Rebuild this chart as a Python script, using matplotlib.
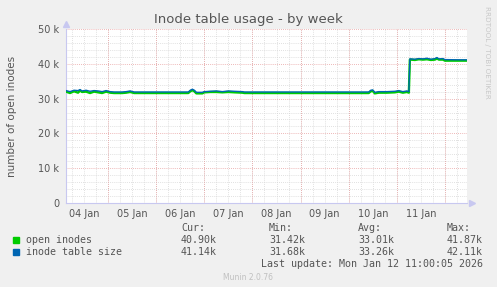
import datetime as dt
import matplotlib
matplotlib.use('Agg')
import matplotlib.pyplot as plt
import matplotlib.dates as mdates
from matplotlib.ticker import MultipleLocator, FuncFormatter

# time axis: hours after 04 Jan 03:00
inicio = dt.datetime(2026, 1, 4, 3, 0)
horas = [0, 2, 4, 6, 7, 8, 10, 12, 14, 16, 18, 20, 22, 24, 26, 28, 30, 32, 34,
         40, 50, 60, 61, 62, 63, 64, 65, 68, 69, 72, 75, 78, 81, 84, 88, 89,
         100, 120, 140, 150, 151, 152, 153, 154, 156, 160, 164, 166, 168, 170,
         171, 171.5, 172, 174, 176, 178, 180, 182, 184, 185, 186, 188, 189,
         190, 195, 200]

tabla_inodos = [32.3, 32.0, 32.4, 32.3, 32.6, 32.2, 32.4, 32.1, 32.3, 32.2, 32.0,
                32.3, 32.0, 31.9, 31.9, 31.9, 32.0, 32.2, 31.9,
                31.9, 31.9, 31.9, 31.9, 32.4, 32.7, 32.4, 31.8, 31.8, 32.0, 32.1,
                32.2, 32.0, 32.2, 32.1, 32.0, 31.9,
                31.9, 31.9, 31.9, 31.9, 31.9, 32.4, 32.5, 31.8, 32.0, 32.0, 32.1,
                32.3, 32.0, 32.2,
                32.0, 41.4, 41.4, 41.3, 41.5, 41.4, 41.6, 41.3, 41.5, 41.8, 41.4,
                41.5, 41.2, 41.2, 41.15, 41.14]

inodos_abiertos = [32.0, 31.6, 32.1, 31.7, 32.3, 31.9, 32.0, 31.6, 32.0, 31.8, 31.6,
                   32.0, 31.7, 31.6, 31.6, 31.6, 31.7, 31.9, 31.6,
                   31.6, 31.6, 31.6, 31.6, 32.1, 32.4, 32.1, 31.5, 31.5, 31.8, 31.9,
                   31.9, 31.8, 31.9, 31.8, 31.7, 31.6,
                   31.6, 31.6, 31.6, 31.6, 31.6, 32.1, 32.2, 31.5, 31.7, 31.7, 31.8,
                   32.0, 31.7, 31.9,
                   31.7, 41.2, 41.2, 41.1, 41.3, 41.2, 41.3, 41.1, 41.2, 41.5, 41.2,
                   41.2, 40.9, 40.9, 40.9, 40.9]

series = ['open inodes', 'inode table size']
colores = ['#00CC00', '#0066B3']
cur = ['40.90k', '41.14k']
minimo = ['31.42k', '31.68k']
avg = ['33.01k', '33.26k']
maximo = ['41.87k', '42.11k']

tiempos = [inicio + dt.timedelta(hours=h) for h in horas]
fin = inicio + dt.timedelta(hours=200)

W, H = 497, 287
fondo = '#F0F0F0'
gris_txt = '#555555'

fig = plt.figure(figsize=(W / 100, H / 100), dpi=100, facecolor=fondo)
ax = fig.add_axes([66 / W, 1 - 203 / H, 401 / W, 174 / H])
ax.set_facecolor('white')

ax.plot(tiempos, [v * 1000 for v in inodos_abiertos], color=colores[0], lw=1.7, zorder=3)
ax.plot(tiempos, [v * 1000 for v in tabla_inodos], color=colores[1], lw=1.0, zorder=4)

ax.set_xlim(inicio, fin)
ax.set_ylim(0, 50000)

# grid
ax.yaxis.set_major_locator(MultipleLocator(10000))
ax.yaxis.set_minor_locator(MultipleLocator(2000))
ax.xaxis.set_major_locator(mdates.HourLocator(byhour=[12]))
ax.xaxis.set_minor_locator(mdates.HourLocator(byhour=[0, 6, 18]))
ax.xaxis.set_major_formatter(mdates.DateFormatter('%d %b'))
ax.yaxis.set_major_formatter(FuncFormatter(lambda v, p: '0' if v == 0 else f'{int(v / 1000)} k'))

ax.grid(which='minor', color='#D6D6D6', linestyle=(0, (1, 1.5)), lw=0.6)
ax.grid(which='major', axis='y', color='#E8A0A0', linestyle=(0, (1, 1.5)), lw=0.6)
ax.grid(which='major', axis='x', color='#D6D6D6', linestyle=(0, (1, 1.5)), lw=0.6)
for d in range(5, 13):
    ax.axvline(dt.datetime(2026, 1, d), color='#E8A0A0', linestyle=(0, (1, 1.5)), lw=0.6, zorder=1)
ax.set_axisbelow(True)

ax.tick_params(which='both', length=0, labelsize=7, colors=gris_txt, pad=4)
ax.tick_params(axis='y', pad=5)

for s in ['top', 'right']:
    ax.spines[s].set_visible(False)
for s in ['left', 'bottom']:
    ax.spines[s].set_color('#C8C8F0')
    ax.spines[s].set_linewidth(0.8)
ax.plot(1.012, 0, '>', color='#C8C8F0', ms=4, transform=ax.transAxes, clip_on=False)
ax.plot(0, 1.03, '^', color='#C8C8F0', ms=4, transform=ax.transAxes, clip_on=False)

def fx(x):
    return x / W

def fy(y):
    return 1 - y / H

fig.text(fx(248), fy(19), 'Inode table usage - by week', ha='center', va='center',
         fontsize=9.5, color=gris_txt)
fig.text(fx(12), fy(116), 'number of open inodes', rotation=90, ha='center', va='center',
         fontsize=7.5, color=gris_txt)
fig.text(fx(487), fy(6), 'RRDTOOL / TOBI OETIKER', rotation=270, ha='center', va='top',
         fontsize=5.2, color='#C8C8C8')

mono = dict(family='DejaVu Sans Mono', fontsize=7.2, color=gris_txt, va='center')
cols = [181, 269, 358, 447]
for x, t in zip(cols, ['Cur:', 'Min:', 'Avg:', 'Max:']):
    fig.text(fx(x), fy(228), t, ha='left', **mono)
for i, nombre in enumerate(series):
    y = 240 + i * 12
    fig.patches.append(plt.Rectangle((fx(13), fy(y + 3)), 6 / W, 6 / H, color=colores[i],
                                     transform=fig.transFigure, figure=fig))
    fig.text(fx(26), fy(y), nombre, ha='left', **mono)
    for x, v in zip(cols, [cur[i], minimo[i], avg[i], maximo[i]]):
        fig.text(fx(x), fy(y), v, ha='left', **mono)
fig.text(fx(483), fy(264), 'Last update: Mon Jan 12 11:00:05 2026', ha='right', **mono)
fig.text(fx(248), fy(277), 'Munin 2.0.76', ha='center', va='center', fontsize=5.5, color='#C0C0C0')

fig.savefig('out.png', dpi=100, facecolor=fondo)
